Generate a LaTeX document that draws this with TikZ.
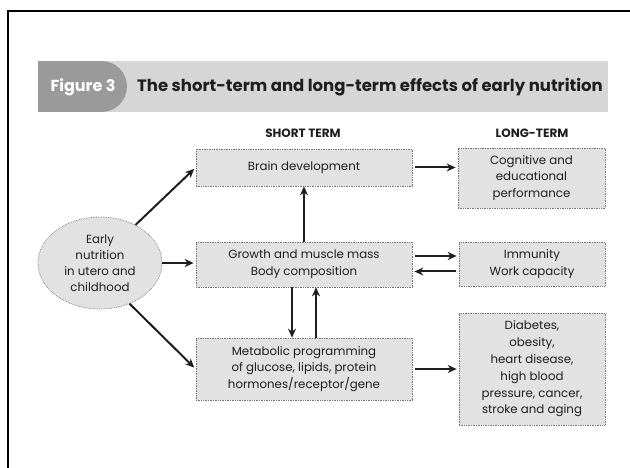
\documentclass[tikz,border=0pt]{standalone}
\usepackage{fontspec}
\setmainfont{Poppins}
\usetikzlibrary{arrows.meta,shapes.geometric}
\definecolor{boxfill}{HTML}{E2E2E2}
\definecolor{bannerfill}{HTML}{D6D6D6}
\definecolor{tabfill}{HTML}{9A9A9A}
\definecolor{inkc}{HTML}{1E1E1E}
\begin{document}
\begin{tikzpicture}[x=1pt,y=-1pt,
  box/.style={draw=black!55, densely dotted, line width=0.7pt, fill=boxfill,
    align=center, inner sep=0pt, text=inkc,
    font=\fontsize{11.8}{16.8}\selectfont},
  ell/.style={box, ellipse, font=\fontsize{11.8}{16}\selectfont},
  head/.style={inner sep=0pt, text=inkc, font=\fontsize{12}{14}\selectfont\bfseries},
  arr/.style={-{Stealth[length=9pt,width=8pt]}, line width=2pt, draw=inkc,
    shorten <=3pt, shorten >=2pt}]
\useasboundingbox (0,0) rectangle (630,468);
% frame
\draw[line width=1.8pt, black] (8,468) -- (8,11) -- (630,11);
% banner
\node[fill=bannerfill, minimum width=570pt, minimum height=51pt, inner sep=0pt] (banner) at (323,86.5) {};
\fill[tabfill] (38,61) rectangle (101.5,112);
\fill[tabfill] (101.5,86.5) circle[radius=25.5pt];
\node[inner sep=0pt, text=white, font=\fontsize{16}{18}\selectfont\bfseries] (fig) at (83,87) {Figure 3};
\node[anchor=west, inner sep=0pt, text=inkc, font=\fontsize{16.5}{18}\selectfont\bfseries] (title) at (137,87) {The short-term and long-term effects of early nutrition};
% headers
\node[head] (st) at (303,133) {SHORT TERM};
\node[head] (lt) at (532,133) {LONG-TERM};
% boxes
\node[box, minimum width=216pt, minimum height=37pt] (brain) at (304,167.5) {Brain development};
\node[box, minimum width=216pt, minimum height=45pt] (growth) at (304,264.5) {Growth and muscle mass\\Body composition};
\node[box, minimum width=216pt, minimum height=62pt] (metab) at (304,369) {Metabolic programming\\of glucose, lipids, protein\\hormones/receptor/gene};
\node[box, minimum width=147pt, minimum height=60pt] (cog) at (531.5,178) {Cognitive and\\educational\\performance};
\node[box, minimum width=146pt, minimum height=44pt] (immun) at (532,264) {Immunity\\Work capacity};
\node[box, minimum width=146pt, minimum height=112pt] (diab) at (532,369) {Diabetes,\\obesity,\\heart disease,\\high blood\\pressure, cancer,\\stroke and aging};
\node[ell, minimum width=124pt, minimum height=92pt] (early) at (100,263) {Early\\nutrition\\in utero and\\childhood};
% connectors
\draw[arr, shorten <=0pt] (early.47) -- (brain.west);
\draw[arr, shorten <=0pt] (early.east) -- (early.east -| growth.west);
\draw[arr, shorten <=0pt] (early.-54) -- (metab.west);
\draw[arr, shorten <=0pt, shorten >=0pt] (growth.north) -- (brain.south);
\draw[arr, shorten <=0pt, shorten >=0pt] ([xshift=-12pt]growth.south) -- ([xshift=-12pt]metab.north);
\draw[arr, shorten <=0pt, shorten >=0pt] ([xshift=12pt]metab.north) -- ([xshift=12pt]growth.south);
\draw[arr] (brain.east) -- (brain.east -| cog.west);
\draw[arr] ([yshift=8.5pt]growth.east) -- ([yshift=8.5pt]growth.east -| immun.west);
\draw[arr] ([yshift=-7.5pt]immun.west) -- ([yshift=-7.5pt]immun.west -| growth.east);
\draw[arr] (metab.east) -- (metab.east -| diab.west);
\end{tikzpicture}
\end{document}
